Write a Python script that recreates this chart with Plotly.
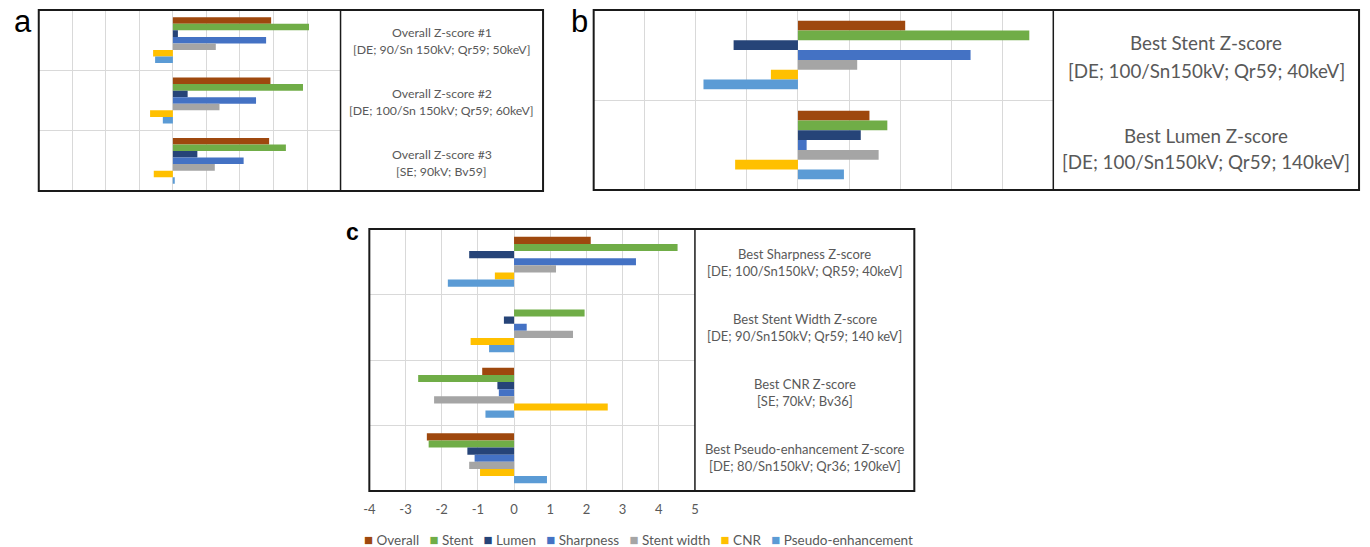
import plotly.graph_objects as go

# ---------------- data ----------------
series = ["Overall", "Stent", "Lumen", "Sharpness", "Stent width", "CNR", "Pseudo-enhancement"]
colors = ["#9E480E", "#70AD47", "#264478", "#4472C4", "#A5A5A5", "#FFC000", "#5B9BD5"]

# panel a
a_categories = ["Overall Z-score #1", "Overall Z-score #2", "Overall Z-score #3"]
a_details = ["[DE; 90/Sn 150kV; Qr59; 50keV]", "[DE; 100/Sn 150kV; Qr59; 60keV]", "[SE; 90kV; Bv59]"]
a_overall = [2.93, 2.91, 2.87]
a_stent = [4.06, 3.88, 3.37]
a_lumen = [0.15, 0.44, 0.73]
a_sharpness = [2.78, 2.48, 2.11]
a_stent_width = [1.28, 1.39, 1.25]
a_cnr = [-0.59, -0.68, -0.57]
a_pseudo = [-0.53, -0.30, 0.04]

# panel b
b_categories = ["Best Stent Z-score", "Best Lumen Z-score"]
b_details = ["[DE; 100/Sn150kV; Qr59; 40keV]", "[DE; 100/Sn150kV; Qr59; 140keV]"]
b_overall = [2.10, 1.40]
b_stent = [4.53, 1.75]
b_lumen = [-1.26, 1.23]
b_sharpness = [3.38, 0.17]
b_stent_width = [1.16, 1.58]
b_cnr = [-0.53, -1.23]
b_pseudo = [-1.85, 0.90]

# panel c
c_categories = ["Best Sharpness Z-score", "Best Stent Width Z-score",
                "Best CNR Z-score", "Best Pseudo-enhancement Z-score"]
c_details = ["[DE; 100/Sn150kV; QR59; 40keV]", "[DE; 90/Sn150kV; Qr59; 140 keV]",
             "[SE; 70kV; Bv36]", "[DE; 80/Sn150kV; Qr36; 190keV]"]
c_overall = [2.12, None, -0.88, -2.41]
c_stent = [4.52, 1.95, -2.65, -2.36]
c_lumen = [-1.24, -0.28, -0.46, -1.29]
c_sharpness = [3.37, 0.35, -0.42, -1.09]
c_stent_width = [1.16, 1.63, -2.21, -1.24]
c_cnr = [-0.53, -1.20, 2.59, -0.94]
c_pseudo = [-1.83, -0.69, -0.79, 0.91]

tick_values = [-4, -3, -2, -1, 0, 1, 2, 3, 4, 5]
tick_labels = ["-4", "-3", "-2", "-1", "0", "1", "2", "3", "4", "5"]

# ---------------- layout helpers ----------------
W, H = 1370, 547
def X(px):
    return px / W
def Y(py):
    return 1 - py / H

FONT = "Lato"
TXT = "#595959"
GRID = "#D9D9D9"

panels = [
    dict(ax="", cats=a_categories, det=a_details,
         vals=[a_overall, a_stent, a_lumen, a_sharpness, a_stent_width, a_cnr, a_pseudo],
         box=(33, 10, 541, 191), split=337, tsize=12.3,
         ty=[33, 93, 154], dy=[50, 110, 171]),
    dict(ax="2", cats=b_categories, det=b_details,
         vals=[b_overall, b_stent, b_lumen, b_sharpness, b_stent_width, b_cnr, b_pseudo],
         box=(592, 10, 1363, 190), split=1055, tsize=18.8,
         ty=[43, 135], dy=[70, 161]),
    dict(ax="3", cats=c_categories, det=c_details,
         vals=[c_overall, c_stent, c_lumen, c_sharpness, c_stent_width, c_cnr, c_pseudo],
         box=(366, 229, 915, 491), split=694, tsize=13,
         ty=[254, 319, 384, 449], dy=[271, 336, 401, 466]),
]

fig = go.Figure()
shapes = []
annotations = []
layout_axes = {}

for p in panels:
    ax = p["ax"]
    x0, y0, x1, y1 = p["box"]
    for name, color, v in zip(series, colors, p["vals"]):
        fig.add_trace(go.Bar(
            y=p["cats"], x=v, orientation="h", name=name,
            marker=dict(color=color, line=dict(width=0)),
            xaxis="x" + ax, yaxis="y" + ax, showlegend=False,
        ))
    is_c = ax == "3"
    layout_axes["xaxis" + ax] = dict(
        domain=[X(x0), X(p["split"])], range=[-4, 5], anchor="y" + ax,
        tickvals=tick_values, ticktext=tick_labels,
        showticklabels=is_c, ticks="", ticklabelstandoff=9,
        tickfont=dict(family=FONT, size=13, color=TXT),
        showgrid=True, gridcolor=GRID, gridwidth=1, zeroline=False,
        showline=False, fixedrange=True,
    )
    layout_axes["yaxis" + ax] = dict(
        domain=[Y(y1), Y(y0)], anchor="x" + ax, type="category",
        autorange="reversed", tickson="boundaries", ticks="",
        showticklabels=False, showgrid=True, gridcolor=GRID, gridwidth=1,
        zeroline=False, showline=False, fixedrange=True,
    )
    # box and divider
    shapes.append(dict(type="rect", xref="paper", yref="paper",
                       x0=X(x0), x1=X(x1), y0=Y(y1), y1=Y(y0),
                       line=dict(color="#1a1a1a", width=2)))
    shapes.append(dict(type="line", xref="paper", yref="paper",
                       x0=X(p["split"]), x1=X(p["split"]), y0=Y(y1), y1=Y(y0),
                       line=dict(color="#1a1a1a", width=1.5)))
    cx = (p["split"] + x1) / 2
    for cat, det, ty, dy in zip(p["cats"], p["det"], p["ty"], p["dy"]):
        annotations.append(dict(text=cat, x=X(cx), y=Y(ty), xref="paper", yref="paper",
                                showarrow=False, xanchor="center", yanchor="middle",
                                font=dict(family=FONT, size=p["tsize"], color=TXT)))
        annotations.append(dict(text=det, x=X(cx), y=Y(dy), xref="paper", yref="paper",
                                showarrow=False, xanchor="center", yanchor="middle",
                                font=dict(family=FONT, size=p["tsize"], color=TXT)))

# panel letters
for letter, lx, ly, sz, bold in [("a", 17, 22, 31, False), ("b", 578, 21, 31, False), ("c", 349, 232, 23, True)]:
    annotations.append(dict(text=("<b>%s</b>" % letter) if bold else letter,
                            x=X(lx), y=Y(ly), xref="paper", yref="paper",
                            showarrow=False, xanchor="center", yanchor="middle",
                            font=dict(family="Liberation Sans", size=sz, color="#000000")))

# legend (colored squares + series names)
legend_text = "\u00a0\u00a0\u00a0".join(
    '<span style="color:%s;font-size:15px">\u25a0</span>\u00a0%s' % (c, s) for s, c in zip(series, colors))
annotations.append(dict(text=legend_text, x=X(637), y=Y(539), xref="paper", yref="paper",
                        showarrow=False, xanchor="center", yanchor="middle",
                        font=dict(family=FONT, size=13.5, color=TXT)))

fig.update_layout(
    width=W, height=H, margin=dict(l=0, r=0, t=0, b=0),
    paper_bgcolor="white", plot_bgcolor="white",
    barmode="group", bargap=0.24, bargroupgap=0,
    shapes=shapes, annotations=annotations, showlegend=False,
    **layout_axes,
)

fig.write_html(
    "out.html",
    config={"displayModeBar": False},
    post_script="document.body.style.margin='0';document.body.style.overflow='hidden';",
)
